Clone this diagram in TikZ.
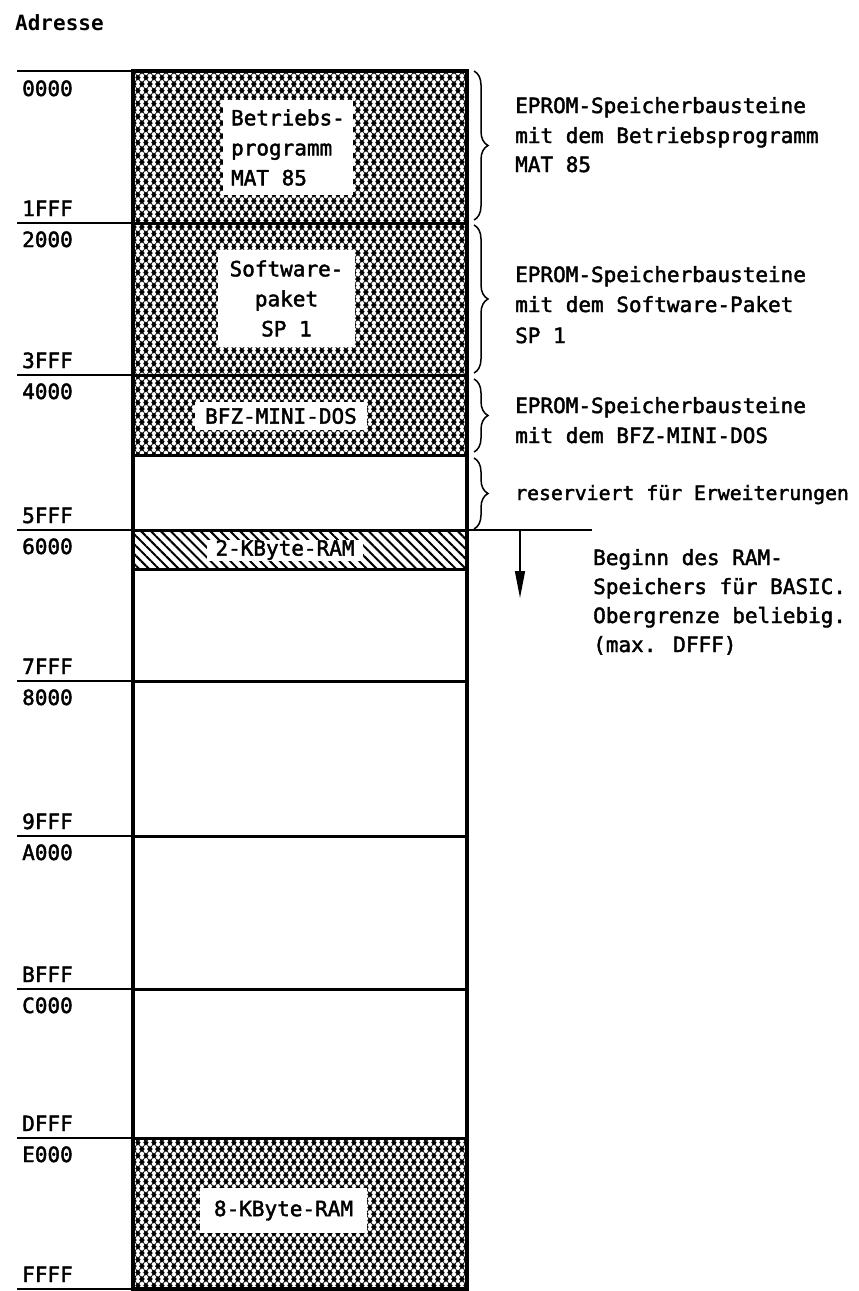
\documentclass[tikz,border=0pt]{standalone}
\usepackage{fontspec}
\setmainfont{DejaVu Sans Mono}
\newfontfamily\dinfont{DejaVu Sans Mono}[FakeBold=2]
\usetikzlibrary{patterns.meta,decorations.pathreplacing,arrows.meta}

\tikzdeclarepattern{
  name=meshdots,
  type=uncolored,
  bounding box={(0pt,0pt) and (8.4pt,13.4pt)},
  tile size={(8.4pt,13.4pt)},
  code={
    \draw[line width=0.8pt] (0pt,0pt) -- (8.4pt,13.4pt) (0pt,13.4pt) -- (8.4pt,0pt);
    \fill (0pt,-3.1pt) -- (2.9pt,0pt) -- (0pt,3.1pt) -- (-2.9pt,0pt) -- cycle;
    \fill (8.4pt,-3.1pt) -- (11.3pt,0pt) -- (8.4pt,3.1pt) -- (5.5pt,0pt) -- cycle;
    \fill (0pt,10.3pt) -- (2.9pt,13.4pt) -- (0pt,16.5pt) -- (-2.9pt,13.4pt) -- cycle;
    \fill (8.4pt,10.3pt) -- (11.3pt,13.4pt) -- (8.4pt,16.5pt) -- (5.5pt,13.4pt) -- cycle;
    \fill (4.2pt,3.6pt) -- (7.1pt,6.7pt) -- (4.2pt,9.8pt) -- (1.3pt,6.7pt) -- cycle;
  }
}

\tikzset{
  boxline/.style={line width=3.4pt},
  sepline/.style={line width=3pt},
  adrline/.style={line width=2pt},
  bracestyle/.style={decorate,decoration={brace,amplitude=14pt},line width=1.5pt},
  adr/.style={anchor=base west,inner sep=0pt},
  rt/.style={anchor=base west,inner sep=0pt},
  lbl/.style={fill=white,inner sep=0pt},
}

\begin{document}
\begin{tikzpicture}[x=1pt,y=-1pt,font=\dinfont\fontsize{21}{30}\selectfont]
\useasboundingbox (0,0) rectangle (859,1291);

% fills
\fill[pattern=meshdots] (133,71) rectangle (467,455);
\fill[pattern={Lines[angle=-45,distance=7pt,line width=2pt]}] (133,530) rectangle (467,569);
\fill[pattern=meshdots] (133,1138) rectangle (467,1289);

% separators inside the box
\foreach \y in {223,375,455,530,569,681,836,989,1138}
  \draw[sepline] (133,\y) -- (467,\y);
% address lines
\foreach \y in {71,223,375,530,681,836,989,1138,1289}
  \draw[adrline] (17,\y) -- (133,\y);
\draw[adrline] (467,530) -- (592,530);
% outer box
\draw[boxline] (133,71) rectangle (467,1289);

% title
\node[anchor=base west,inner sep=0pt,font=\fontsize{21}{30}\selectfont\bfseries] (title) at (15,30) {Adresse};

% address labels
\node[adr] (a0000) at (22,96) {0000};
\node[adr] (a1fff) at (22,216) {1FFF};
\node[adr] (a2000) at (22,247) {2000};
\node[adr] (a3fff) at (22,368) {3FFF};
\node[adr] (a4000) at (22,399) {4000};
\node[adr] (a5fff) at (22,523) {5FFF};
\node[adr] (a6000) at (22,554) {6000};
\node[adr] (a7fff) at (22,674) {7FFF};
\node[adr] (a8000) at (22,705) {8000};
\node[adr] (a9fff) at (22,829) {9FFF};
\node[adr] (aa000) at (22,860) {A000};
\node[adr] (abfff) at (22,982) {BFFF};
\node[adr] (ac000) at (22,1013) {C000};
\node[adr] (adfff) at (22,1131) {DFFF};
\node[adr] (ae000) at (22,1162) {E000};
\node[adr] (affff) at (22,1282) {FFFF};

% labels inside the box
\node[lbl,align=left,minimum width=130pt,minimum height=95pt] (betr) at (288,147.5) {Betriebs-\\programm\\MAT 85};
\node[lbl,align=center,minimum width=137pt,minimum height=97pt] (soft) at (286.5,298.5) {Software-\\paket\\SP 1};
\node[lbl,minimum width=172pt,minimum height=28pt] (dos) at (281,416) {BFZ-MINI-DOS};
\node[lbl,minimum width=156pt,minimum height=21pt] (ram2) at (285,550) {2-KByte-RAM};
\node[lbl,minimum width=167pt,minimum height=45pt] (ram8) at (283.5,1210.5) {8-KByte-RAM};

% braces
\draw[bracestyle] (474,71) -- (474,220);
\draw[bracestyle] (474,225) -- (474,373);
\draw[bracestyle] (474,379) -- (474,452);
\draw[bracestyle] (474,458) -- (474,529);

% right side texts
\node[rt] (t1a) at (515,113) {EPROM-Speicherbausteine};
\node[rt] (t1b) at (515,143) {mit dem Betriebsprogramm};
\node[rt] (t1c) at (515,172) {MAT 85};
\node[rt] (t2a) at (515,282) {EPROM-Speicherbausteine};
\node[rt] (t2b) at (515,312) {mit dem Software-Paket};
\node[rt] (t2c) at (515,343) {SP 1};
\node[rt] (t3a) at (515,413) {EPROM-Speicherbausteine};
\node[rt] (t3b) at (515,443) {mit dem BFZ-MINI-DOS};
\node[rt,font=\dinfont\fontsize{19.8}{30}\selectfont] (t4a) at (515,500) {reserviert für Erweiterungen};
\node[rt] (t5a) at (593,565) {Beginn des RAM-};
\node[rt] (t5b) at (593,594) {Speichers für BASIC.};
\node[rt] (t5c) at (593,623) {Obergrenze beliebig.};
\node[rt] (t5d) at (593,652) {(max. DFFF)};

% arrow
\coordinate (arrS) at (520,530);
\coordinate (arrE) at (520,598);
\draw[line width=1.5pt,-{Triangle[length=27pt,width=10pt]}] (arrS) -- (arrE);
\end{tikzpicture}
\end{document}
